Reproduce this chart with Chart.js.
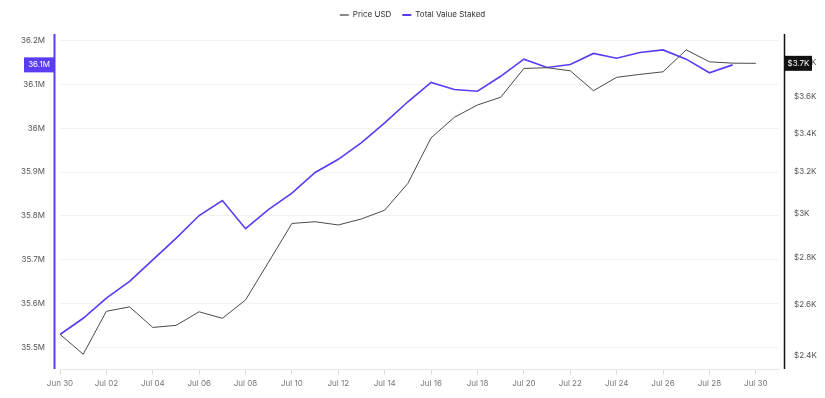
<!DOCTYPE html>
<html>
<head>
<meta charset="utf-8">
<script src="https://cdn.jsdelivr.net/npm/chart.js@4.4.1/dist/chart.umd.min.js"></script>
<style>
  html, body { margin: 0; padding: 0; background: #fff; }
  #wrap { width: 825px; height: 398px; }
</style>
</head>
<body>
<div id="wrap"><canvas id="myChart"></canvas></div>
<script>
var days = ['Jun 30', 'Jul 01', 'Jul 02', 'Jul 03', 'Jul 04', 'Jul 05', 'Jul 06', 'Jul 07',
    'Jul 08', 'Jul 09', 'Jul 10', 'Jul 11', 'Jul 12', 'Jul 13', 'Jul 14', 'Jul 15', 'Jul 16',
    'Jul 17', 'Jul 18', 'Jul 19', 'Jul 20', 'Jul 21', 'Jul 22', 'Jul 23', 'Jul 24', 'Jul 25',
    'Jul 26', 'Jul 27', 'Jul 28', 'Jul 29', 'Jul 30', 'Jul 31'];

// Price USD, Jun 30 - Jul 30
var priceUsd = [2483, 2407, 2574, 2592, 2510, 2518, 2572, 2546, 2620, 2781, 2953, 2961,
    2946, 2974, 3015, 3144, 3376, 3486, 3554, 3597, 3763, 3767, 3749, 3634, 3711, 3728,
    3743, 3874, 3802, 3794, 3793];

// Total Value Staked, Jun 30 - Jul 29
var totalStaked = [35.530, 35.567, 35.613, 35.651, 35.700, 35.749, 35.801, 35.835, 35.771,
    35.815, 35.852, 35.899, 35.929, 35.967, 36.012, 36.060, 36.104, 36.088, 36.084, 36.118,
    36.157, 36.138, 36.145, 36.170, 36.159, 36.172, 36.178, 36.157, 36.126, 36.144].map(function (v) { return v * 1e6; });

var stakedTicks = [35.5e6, 35.6e6, 35.7e6, 35.8e6, 35.9e6, 36e6, 36.1e6, 36.2e6];
var priceTicks = [2400, 2600, 2800, 3000, 3200, 3400, 3600, 3800];

var purple = '#5b3cf5';
var gray = '#4a4a4a';
Chart.defaults.font.family = 'Inter, "Liberation Sans", sans-serif';
Chart.defaults.font.size = 8;

// a bit more room under the legend
var legendGap = {
    id: 'legendGap',
    beforeInit: function (chart) {
        var fit = chart.legend.fit;
        chart.legend.fit = function () {
            fit.bind(chart.legend)();
            this.height += 5;
        };
    }
};

// axis lines and current value boxes
var axisMarks = {
    id: 'axisMarks',
    afterDraw: function (chart) {
        var ctx = chart.ctx, a = chart.chartArea;
        ctx.save();
        ctx.strokeStyle = purple;
        ctx.lineWidth = 2;
        ctx.beginPath();
        ctx.moveTo(54.5, a.top);
        ctx.lineTo(54.5, a.bottom);
        ctx.stroke();
        ctx.strokeStyle = '#111';
        ctx.lineWidth = 1.5;
        ctx.beginPath();
        ctx.moveTo(784.5, a.top);
        ctx.lineTo(784.5, a.bottom);
        ctx.stroke();

        ctx.font = '8px Inter, "Liberation Sans", sans-serif';
        ctx.textAlign = 'center';
        ctx.textBaseline = 'middle';

        var lastS = totalStaked[totalStaked.length - 1];
        var ys = chart.scales.y.getPixelForValue(lastS);
        ctx.fillStyle = purple;
        ctx.fillRect(24, ys - 7.5, 30, 15);
        ctx.fillStyle = '#fff';
        ctx.fillText((Math.floor(lastS / 1e5) / 10) + 'M', 39, ys);

        var lastP = priceUsd[priceUsd.length - 1];
        var yp = chart.scales.y1.getPixelForValue(lastP);
        ctx.fillStyle = '#111';
        ctx.fillRect(785, yp - 7.5, 27, 15);
        ctx.fillStyle = '#fff';
        ctx.fillText('$' + (Math.floor(lastP / 100) / 10) + 'K', 798.5, yp);
        ctx.restore();
    }
};

var ctx = document.getElementById('myChart').getContext('2d');
var myChart = new Chart(ctx, {
    type: 'line',
    data: {
        labels: days,
        datasets: [{
            label: 'Price USD',
            data: priceUsd,
            yAxisID: 'y1',
            borderColor: gray,
            backgroundColor: '#8a8a8a',
            borderWidth: 1,
            pointRadius: 0,
            tension: 0
        }, {
            label: 'Total Value Staked',
            data: totalStaked,
            yAxisID: 'y',
            borderColor: purple,
            backgroundColor: purple,
            borderWidth: 1.6,
            pointRadius: 0,
            tension: 0
        }]
    },
    options: {
        responsive: true,
        maintainAspectRatio: false,
        animation: false,
        layout: { padding: { left: 0, right: 0, top: 0, bottom: 0 } },
        plugins: {
            tooltip: { enabled: false },
            legend: {
                position: 'top',
                labels: {
                    boxWidth: 9,
                    boxHeight: 2,
                    padding: 11,
                    color: '#333',
                    font: { size: 8 },
                    generateLabels: function (chart) {
                        return Chart.defaults.plugins.legend.labels.generateLabels(chart).map(function (l) {
                            l.lineWidth = 0;
                            return l;
                        });
                    }
                }
            }
        },
        scales: {
            x: {
                grid: {
                    drawOnChartArea: false,
                    tickLength: 6,
                    color: function (c) { return c.index % 2 === 0 ? '#dcdcdc' : 'rgba(0,0,0,0)'; }
                },
                border: { display: true, color: '#e6e6e6' },
                ticks: {
                    autoSkip: false,
                    maxRotation: 0,
                    padding: 4,
                    color: '#777',
                    callback: function (val, i) { return i % 2 === 0 ? days[i] : ''; }
                },
                afterFit: function (s) { s.height = 29; }
            },
            y: {
                position: 'left',
                min: 35.4515e6,
                max: 36.2143e6,
                afterBuildTicks: function (s) { s.ticks = stakedTicks.map(function (v) { return { value: v }; }); },
                grid: { color: '#f2f2f2', drawTicks: false },
                border: { display: false },
                ticks: {
                    padding: 15,
                    color: '#555',
                    callback: function (v) { return parseFloat((v / 1e6).toFixed(1)) + 'M'; }
                },
                afterFit: function (s) { s.width = 60; }
            },
            y1: {
                type: 'logarithmic',
                position: 'right',
                min: 2352,
                max: 3971,
                afterBuildTicks: function (s) { s.ticks = priceTicks.map(function (v) { return { value: v }; }); },
                grid: { display: false, drawTicks: false },
                border: { display: false },
                ticks: {
                    padding: 15,
                    color: '#555',
                    callback: function (v) { return '$' + (v / 1000) + 'K'; }
                },
                afterFit: function (s) { s.width = 46; }
            }
        }
    },
    plugins: [legendGap, axisMarks]
});
</script>
</body>
</html>
